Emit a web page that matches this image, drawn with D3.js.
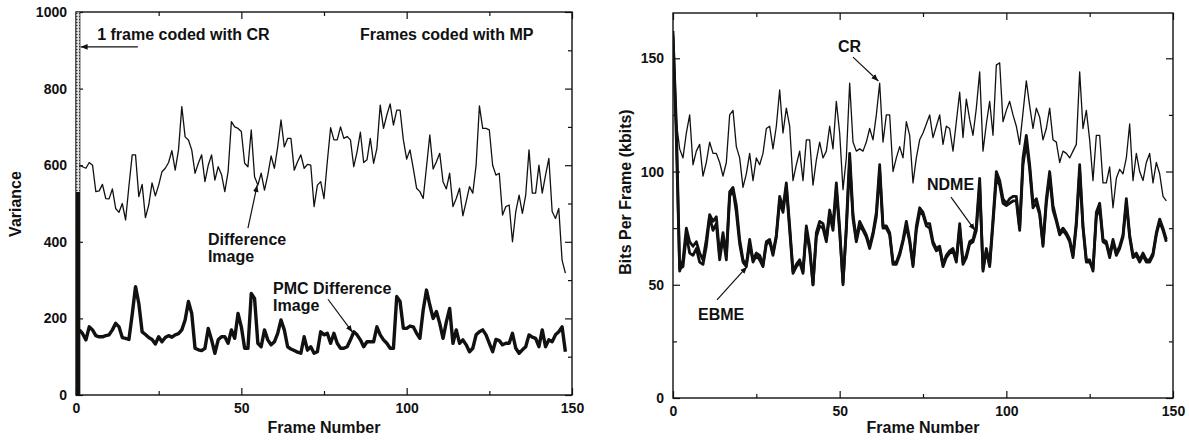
<!DOCTYPE html>
<html>
<head>
<meta charset="utf-8">
<script src="https://cdn.jsdelivr.net/npm/d3@7"></script>
<style>
  body { margin: 0; background: #fff; }
  svg text { font-family: "Liberation Sans", Arial, Helvetica, sans-serif; font-weight: bold; fill: #111; }
</style>
</head>
<body>
<svg id="chart" width="1189" height="441"></svg>
<script>
// ---- data ----
const xTicks = [0, 50, 100, 150];
const xMinorTicks = [25, 75, 125];

// left panel: variance, frames 1..148 (frame 0 is the CR frame)
const varianceTicks = [0, 200, 400, 600, 800, 1000];
const varianceMinorTicks = [100, 300, 500, 700, 900];
const crFrame = { frame: 0, width: 1.2, top: 1000, solid: 530 };
const diffImage = [
  600, 596, 592, 607, 600, 531, 533, 550, 513, 512,
  538, 487, 477, 500, 457, 545, 627, 627, 518, 550,
  463, 496, 554, 520, 548, 583, 592, 607, 638, 587,
  640, 753, 674, 666, 640, 579, 605, 627, 557, 600,
  627, 561, 596, 576, 531, 583, 714, 700, 696, 688,
  605, 596, 692, 570, 548, 579, 535, 574, 624, 592,
  648, 718, 648, 670, 670, 587, 609, 627, 592, 602,
  600, 492, 548, 557, 513, 609, 698, 666, 666, 700,
  670, 675, 666, 596, 635, 686, 607, 614, 670, 605,
  644, 757, 696, 731, 760, 705, 744, 744, 666, 616,
  640, 592, 540, 531, 513, 596, 679, 590, 609, 631,
  557, 538, 579, 492, 513, 540, 468, 505, 544, 527,
  600, 755, 696, 696, 692, 600, 574, 579, 470, 492,
  496, 400, 479, 522, 474, 522, 640, 527, 527, 600,
  527, 574, 618, 479, 461, 487, 352, 318
];
const pmcDiffImage = [
  170, 160, 144, 178, 170, 155, 152, 152, 155, 157,
  170, 187, 178, 150, 148, 145, 210, 283, 239, 165,
  158, 150, 145, 133, 152, 139, 150, 155, 151, 157,
  160, 170, 196, 244, 213, 122, 118, 116, 122, 174,
  144, 109, 144, 152, 152, 135, 170, 148, 213, 178,
  122, 122, 265, 252, 135, 126, 170, 144, 131, 139,
  161, 196, 170, 126, 120, 116, 112, 109, 152, 117,
  126, 109, 113, 165, 157, 161, 135, 161, 135, 122,
  122, 126, 144, 165, 157, 144, 126, 139, 139, 139,
  178, 157, 144, 135, 122, 122, 257, 244, 174, 174,
  180, 178, 161, 148, 222, 274, 235, 200, 218, 187,
  148, 191, 226, 135, 170, 135, 144, 131, 113, 122,
  157, 165, 170, 157, 135, 113, 145, 142, 131, 135,
  135, 161, 122, 109, 118, 126, 157, 151, 148, 126,
  170, 126, 144, 139, 157, 165, 178, 113
];

// right panel: bits per frame (kbits), frames 0..148
const bitsTicks = [0, 50, 100, 150];
const bitsMinorTicks = [25, 75, 125];
const crBits = [
  160, 122, 110, 106, 117, 125, 103, 109, 112, 98, 104,
  113, 108, 108, 104, 98, 104, 125, 127, 111, 106,
  93, 99, 108, 96, 106, 103, 108, 119, 120, 110,
  120, 136, 117, 128, 120, 96, 103, 109, 96, 114,
  114, 94, 105, 113, 106, 109, 120, 110, 131, 117,
  92, 106, 139, 113, 109, 110, 109, 113, 119, 114,
  125, 139, 113, 125, 125, 100, 106, 111, 106, 122,
  116, 95, 106, 114, 117, 121, 125, 115, 120, 125,
  112, 120, 119, 109, 122, 135, 115, 132, 123, 116,
  128, 144, 109, 121, 131, 116, 147, 148, 122, 127,
  131, 125, 120, 112, 126, 140, 129, 119, 128, 124,
  114, 119, 128, 114, 113, 104, 109, 108, 106, 109,
  112, 144, 119, 127, 114, 96, 116, 116, 95, 95,
  102, 84, 97, 101, 99, 106, 121, 96, 108, 100,
  96, 104, 108, 95, 104, 99, 89, 87
];
const ndmeBits = [
  162, 114, 56, 61, 75, 69, 67, 69, 64, 61, 70,
  81, 78, 80, 63, 73, 63, 91, 93, 85, 70,
  61, 59, 70, 61, 64, 63, 59, 69, 70, 64,
  72, 89, 84, 95, 76, 56, 59, 61, 56, 76,
  67, 50, 73, 78, 77, 70, 83, 76, 95, 75,
  50, 76, 108, 81, 70, 78, 75, 72, 67, 73,
  82, 103, 76, 76, 73, 60, 60, 64, 70, 78,
  70, 59, 76, 84, 82, 77, 77, 69, 66, 67,
  59, 63, 65, 66, 61, 77, 60, 63, 69, 70,
  76, 97, 56, 66, 59, 79, 100, 96, 88, 86,
  88, 89, 89, 75, 106, 116, 103, 86, 88, 82,
  68, 88, 100, 85, 79, 73, 75, 73, 70, 63,
  78, 103, 76, 61, 61, 56, 82, 86, 70, 69,
  63, 70, 64, 67, 72, 88, 72, 63, 64, 61,
  64, 61, 61, 64, 73, 79, 75, 70
];
const ebmeBits = [
  160, 121, 57, 58, 72, 64, 63, 66, 60, 59, 67,
  80, 74, 77, 61, 71, 61, 89, 92, 82, 68,
  60, 58, 68, 60, 63, 61, 58, 68, 69, 63,
  71, 87, 82, 93, 74, 55, 58, 60, 55, 74,
  65, 50, 71, 76, 75, 69, 81, 74, 92, 73,
  51, 74, 105, 79, 69, 76, 74, 71, 66, 72,
  80, 100, 75, 75, 72, 59, 59, 63, 69, 76,
  69, 58, 74, 82, 81, 76, 75, 68, 65, 66,
  58, 62, 64, 65, 60, 75, 59, 62, 68, 69,
  74, 94, 57, 65, 58, 77, 97, 94, 86, 85,
  86, 87, 87, 74, 103, 113, 101, 84, 86, 81,
  67, 86, 98, 83, 78, 72, 74, 72, 69, 62,
  76, 100, 75, 60, 60, 57, 80, 84, 69, 68,
  62, 69, 63, 66, 71, 86, 71, 62, 63, 60,
  63, 60, 60, 63, 72, 78, 74, 69
];

// annotations in data coordinates
const leftNotes = [
  { lines: ['1 frame coded with CR'], x: 6.4, y: 927, from: [18.7, 909], to: [1.4, 909] },
  { lines: ['Frames coded with MP'], x: 85.9, y: 927 },
  { lines: ['Difference', 'Image'], x: 39.9, y: 392, from: [52, 436], to: [54.8, 548] },
  { lines: ['PMC Difference', 'Image'], x: 59.6, y: 264, from: [76.2, 250], to: [83.6, 164] }
];
const rightNotes = [
  { lines: ['CR'], x: 49.5, y: 153, from: [54, 150.5], to: [61.6, 140] },
  { lines: ['NDME'], x: 76.2, y: 91.8, from: [83.4, 88.7], to: [90.6, 74] },
  { lines: ['EBME'], x: 7.5, y: 34.4, from: [13.2, 43.3], to: [22.2, 58] }
];

// ---- drawing ----
const svg = d3.select('#chart');
const defs = svg.append('defs');

defs.append('marker')
  .attr('id', 'head')
  .attr('viewBox', '0 -5 10 10')
  .attr('refX', 10)
  .attr('refY', 0)
  .attr('markerWidth', 7)
  .attr('markerHeight', 7)
  .attr('markerUnits', 'userSpaceOnUse')
  .attr('orient', 'auto')
  .append('path')
  .attr('fill', '#111')
  .attr('d', 'M0,-4L10,0L0,4Z');

const dots = defs.append('pattern')
  .attr('id', 'crdots')
  .attr('width', 3)
  .attr('height', 3)
  .attr('patternUnits', 'userSpaceOnUse');
dots.append('rect').attr('width', 3).attr('height', 3).attr('fill', '#e4e4e4');
dots.append('rect').attr('x', 1).attr('y', 1).attr('width', 1.5).attr('height', 1).attr('fill', '#333');

function panel(id, cfg) {
  const x = d3.scaleLinear().domain([0, 150]).range(cfg.xRange);
  const y = d3.scaleLinear().domain(cfg.yDomain).range(cfg.yRange);
  const g = svg.append('g');
  const [x0, x1] = cfg.xRange;
  const [yb, yt] = cfg.yRange;

  defs.append('clipPath').attr('id', 'clip-' + id)
    .append('rect')
    .attr('x', x0).attr('y', yt)
    .attr('width', x1 - x0).attr('height', yb - yt);

  // axes (ticks inward on all four sides)
  const style = a => a.attr('font-size', 14)
    .attr('font-family', '"Liberation Sans", Arial, sans-serif')
    .call(s => s.select('.domain').remove())
    .call(s => s.selectAll('line').attr('stroke', '#111').attr('stroke-width', 1.2));
  const fmt = d3.format('d');

  g.append('g').attr('transform', `translate(0,${yb})`)
    .call(d3.axisBottom(x).tickValues(xTicks).tickFormat(fmt).tickSize(-7).tickPadding(8)).call(style);
  g.append('g').attr('transform', `translate(0,${yb})`)
    .call(d3.axisBottom(x).tickValues(xMinorTicks).tickSize(-4).tickFormat('')).call(style);
  g.append('g').attr('transform', `translate(0,${yt})`)
    .call(d3.axisTop(x).tickValues(xTicks).tickSize(-7).tickFormat('')).call(style);
  g.append('g').attr('transform', `translate(0,${yt})`)
    .call(d3.axisTop(x).tickValues(xMinorTicks).tickSize(-4).tickFormat('')).call(style);

  g.append('g').attr('transform', `translate(${x0},0)`)
    .call(d3.axisLeft(y).tickValues(cfg.yTicks).tickFormat(fmt).tickSize(-7).tickPadding(9)).call(style);
  g.append('g').attr('transform', `translate(${x0},0)`)
    .call(d3.axisLeft(y).tickValues(cfg.yMinor).tickSize(-4).tickFormat('')).call(style);
  g.append('g').attr('transform', `translate(${x1},0)`)
    .call(d3.axisRight(y).tickValues(cfg.yTicks).tickSize(-7).tickFormat('')).call(style);
  g.append('g').attr('transform', `translate(${x1},0)`)
    .call(d3.axisRight(y).tickValues(cfg.yMinor).tickSize(-4).tickFormat('')).call(style);

  g.append('rect')
    .attr('x', x0).attr('y', yt)
    .attr('width', x1 - x0).attr('height', yb - yt)
    .attr('fill', 'none')
    .attr('stroke', '#111')
    .attr('stroke-width', 1.4);

  // titles
  g.append('text')
    .attr('x', (x0 + x1) / 2).attr('y', 433)
    .attr('text-anchor', 'middle')
    .attr('font-size', 16)
    .text('Frame Number');
  g.append('text')
    .attr('transform', `translate(${cfg.yTitlePos[0]},${cfg.yTitlePos[1]}) rotate(-90)`)
    .attr('text-anchor', 'middle')
    .attr('font-size', 16)
    .text(cfg.yTitle);

  const plot = g.append('g').attr('clip-path', `url(#clip-${id})`);

  if (cfg.bar) {
    const b = cfg.bar;
    plot.append('rect')
      .attr('x', x(b.frame)).attr('width', x(b.width) - x(0))
      .attr('y', y(b.top)).attr('height', y(0) - y(b.top))
      .attr('fill', 'url(#crdots)')
      .attr('stroke', '#222').attr('stroke-width', 0.8);
    plot.append('rect')
      .attr('x', x(b.frame)).attr('width', x(b.width) - x(0))
      .attr('y', y(b.solid)).attr('height', y(0) - y(b.solid))
      .attr('fill', '#111');
  }

  cfg.series.forEach(s => {
    const line = d3.line()
      .x((d, i) => x(i + s.start))
      .y(d => y(d))
      .curve(d3.curveLinear);
    plot.append('path')
      .datum(s.values)
      .attr('fill', 'none')
      .attr('stroke', '#111')
      .attr('stroke-width', s.width)
      .attr('stroke-linejoin', 'round')
      .attr('d', line);
  });

  // annotations
  cfg.notes.forEach(n => {
    const t = g.append('text')
      .attr('x', x(n.x)).attr('y', y(n.y))
      .attr('font-size', 16);
    n.lines.forEach((l, i) => {
      t.append('tspan').attr('x', x(n.x)).attr('dy', i === 0 ? 0 : 17).text(l);
    });
    if (n.from) {
      g.append('line')
        .attr('x1', x(n.from[0])).attr('y1', y(n.from[1]))
        .attr('x2', x(n.to[0])).attr('y2', y(n.to[1]))
        .attr('stroke', '#111')
        .attr('stroke-width', 1.2)
        .attr('marker-end', 'url(#head)');
    }
  });
}

panel('left', {
  xRange: [76, 572],
  yRange: [395, 12],
  yDomain: [0, 1000],
  yTicks: varianceTicks,
  yMinor: varianceMinorTicks,
  yTitle: 'Variance',
  yTitlePos: [21, 204],
  bar: crFrame,
  series: [
    { values: diffImage, start: 1, width: 1.3 },
    { values: pmcDiffImage, start: 1, width: 3.4 }
  ],
  notes: leftNotes
});

panel('right', {
  xRange: [673, 1173],
  yRange: [398, 13],
  yDomain: [0, 170],
  yTicks: bitsTicks,
  yMinor: bitsMinorTicks,
  yTitle: 'Bits Per Frame (kbits)',
  yTitlePos: [631, 192],
  series: [
    { values: crBits, start: 0, width: 1.3 },
    { values: ebmeBits, start: 0, width: 2.8 },
    { values: ndmeBits, start: 0, width: 2.8 }
  ],
  notes: rightNotes
});
</script>
</body>
</html>
